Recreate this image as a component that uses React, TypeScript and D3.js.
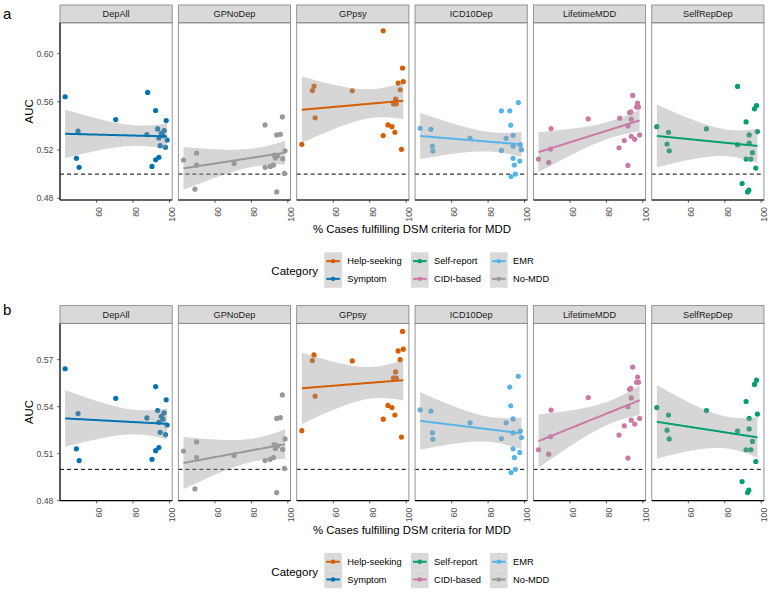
import React from 'react';
import * as d3 from 'd3';

// ---------- DATA ----------
const FACETS = ['DepAll', 'GPNoDep', 'GPpsy', 'ICD10Dep', 'LifetimeMDD', 'SelfRepDep'];
const FACET_CATEGORY = ['Symptom', 'No-MDD', 'Help-seeking', 'EMR', 'CIDI-based', 'Self-report'];
const CATEGORIES = ['Help-seeking', 'Symptom', 'Self-report', 'CIDI-based', 'EMR', 'No-MDD'];
const CATEGORY_COLORS = ['#D55E00', '#0072B2', '#009E73', '#CC79A7', '#56B4E9', '#999999'];

const DEPALL_X = [42.7, 48.9, 49.8, 50.4, 70.5, 87.6, 90.4, 92.4, 92.4, 93.5, 94.2, 94.2, 94.9, 95.5, 96.4, 97.1, 97.8, 98.2, 98.7];
const DEPALL_Y = [0.5642, 0.5131, 0.5356, 0.5056, 0.5453, 0.5328, 0.5064, 0.5528, 0.5119, 0.5375, 0.5139, 0.5300, 0.5236, 0.5339, 0.5320, 0.5361, 0.5222, 0.5444, 0.5283];

const GPNODEP_X = [42.7, 49.0, 49.9, 49.9, 70.5, 87.5, 90.3, 92.1, 92.5, 93.2, 93.9, 93.9, 94.3, 95.9, 97.0, 97.2, 98.2, 98.5];
const GPNODEP_Y = [0.5117, 0.4875, 0.5175, 0.5075, 0.5089, 0.5056, 0.5064, 0.5075, 0.5158, 0.5133, 0.4852, 0.5325, 0.5150, 0.5330, 0.5475, 0.5128, 0.5006, 0.5194];

const GPPSY_X = [42.7, 48.5, 49.4, 50.0, 70.4, 87.4, 90.0, 92.2, 93.0, 93.5, 93.8, 94.2, 94.6, 95.6, 96.7, 97.4, 98.0, 98.4];
const GPPSY_Y = [0.5247, 0.5694, 0.5730, 0.5467, 0.5692, 0.5320, 0.5408, 0.5394, 0.5583, 0.5583, 0.5347, 0.5622, 0.5583, 0.5756, 0.5700, 0.5206, 0.5880, 0.5767];

const ICD10DEP_X = [42.7, 48.6, 49.4, 49.7, 70.1, 87.3, 89.9, 91.9, 92.4, 92.6, 93.7, 93.7, 93.7, 94.4, 95.0, 96.6, 97.4, 97.7, 98.3];
const ICD10DEP_Y = [0.5380, 0.5372, 0.5233, 0.5192, 0.5297, 0.5197, 0.5297, 0.5525, 0.5406, 0.4980, 0.5322, 0.5233, 0.5131, 0.5075, 0.5000, 0.5594, 0.5108, 0.5244, 0.5203];

const LIFETIMEMDD_X = [42.7, 48.3, 49.3, 49.6, 70.0, 86.9, 89.8, 91.8, 91.8, 92.7, 93.4, 93.6, 93.6, 94.4, 95.5, 96.5, 97.1, 97.6, 98.2];
const LIFETIMEMDD_Y = [0.5125, 0.5097, 0.5208, 0.5378, 0.5458, 0.5219, 0.5278, 0.5072, 0.5400, 0.5511, 0.5517, 0.5456, 0.5314, 0.5653, 0.5289, 0.5556, 0.5589, 0.5556, 0.5325];

const SELFREPDEP_X = [42.7, 48.3, 49.1, 49.5, 69.9, 87.0, 89.5, 91.7, 91.7, 92.5, 93.2, 93.4, 93.4, 94.3, 95.2, 96.3, 97.0, 97.4, 97.9];
const SELFREPDEP_Y = [0.5394, 0.5250, 0.5347, 0.5194, 0.5375, 0.5244, 0.4922, 0.5433, 0.5125, 0.4852, 0.4867, 0.5325, 0.5258, 0.5125, 0.5178, 0.5542, 0.5050, 0.5569, 0.5353];

// the outlying cohort, shown in panel a only
const OUTLIER_X = [88.0, 87.5, 87.4, 87.3, 87.3, 87.0];
const OUTLIER_Y = [0.5678, 0.5408, 0.6189, 0.5525, 0.5464, 0.5728];

const X_TICKS = [60, 80, 100];
const Y_TICKS_A = [0.48, 0.52, 0.56, 0.6];
const Y_TICKS_B = [0.48, 0.51, 0.54, 0.57];
const CHANCE_AUC = 0.5;
const X_TITLE = '% Cases fulfilling DSM criteria for MDD';
const Y_TITLE = 'AUC';
const LEGEND_TITLE = 'Category';

const FACET_X = [DEPALL_X, GPNODEP_X, GPPSY_X, ICD10DEP_X, LIFETIMEMDD_X, SELFREPDEP_X];
const FACET_Y = [DEPALL_Y, GPNODEP_Y, GPPSY_Y, ICD10DEP_Y, LIFETIMEMDD_Y, SELFREPDEP_Y];

// ---------- LAYOUT ----------
const W = 772;
const H = 594;
const FONT = '"Liberation Sans", Arial, Helvetica, sans-serif';
const PANEL_X0 = 60;
const PANEL_W = 112.2;
const PANEL_STEP = 118.35;
const STRIP_TOP = 5;
const STRIP_H = 17.8;
const PLOT_BOTTOM = 200;
const BLOCK_OFFSET = 300.6;

function tQuantile(df: number) {
  const z = 1.959964;
  return z + (z ** 3 + z) / (4 * df) + (5 * z ** 5 + 16 * z ** 3 + 3 * z) / (96 * df * df) +
    (3 * z ** 7 + 19 * z ** 5 + 17 * z ** 3 - 15 * z) / (384 * df ** 3);
}

function lmFit(xs: number[], ys: number[]) {
  const n = xs.length;
  const mx = d3.mean(xs) as number;
  const my = d3.mean(ys) as number;
  let sxx = 0, sxy = 0;
  xs.forEach((x, i) => { sxx += (x - mx) ** 2; sxy += (x - mx) * (ys[i] - my); });
  const b = sxy / sxx;
  const a = my - b * mx;
  let sse = 0;
  xs.forEach((x, i) => { sse += (ys[i] - (a + b * x)) ** 2; });
  const s = Math.sqrt(sse / (n - 2));
  const t = tQuantile(n - 2);
  const [x0, x1] = d3.extent(xs) as [number, number];
  const grid = d3.range(0, 81).map(k => x0 + (x1 - x0) * k / 80);
  return grid.map(x => {
    const fit = a + b * x;
    const se = s * Math.sqrt(1 / n + (x - mx) ** 2 / sxx);
    return { x, fit, lo: fit - t * se, hi: fit + t * se };
  });
}

function expand(ext: [number, number]): [number, number] {
  const r = ext[1] - ext[0];
  return [ext[0] - 0.05 * r, ext[1] + 0.05 * r];
}

function Block({ dy, withOutlier, yTicks, tag, tagY }: { dy: number; withOutlier: boolean; yTicks: number[]; tag: string; tagY: number }) {
  const facetData = FACETS.map((f, i) => {
    const xs = [...FACET_X[i]];
    const ys = [...FACET_Y[i]];
    if (withOutlier) { xs.push(OUTLIER_X[i]); ys.push(OUTLIER_Y[i]); }
    return { xs, ys };
  });
  const allX = facetData.flatMap(d => d.xs);
  const allY = facetData.flatMap(d => d.ys);
  const plotTop = STRIP_TOP + STRIP_H + dy;
  const plotBottom = PLOT_BOTTOM + dy;
  const x = d3.scaleLinear().domain(expand(d3.extent(allX) as [number, number])).range([0, PANEL_W]);
  const y = d3.scaleLinear().domain(expand(d3.extent(allY) as [number, number])).range([plotBottom, plotTop]);
  const colorOf = (cat: string) => CATEGORY_COLORS[CATEGORIES.indexOf(cat)];

  const area = d3.area<{ x: number; lo: number; hi: number }>()
    .x(d => x(d.x)).y0(d => y(d.lo)).y1(d => y(d.hi));
  const line = d3.line<{ x: number; fit: number }>().x(d => x(d.x)).y(d => y(d.fit));

  const legendY = 252.3 + dy;
  const keyCols = [324.3, 411, 490];
  const keyW = 17.6;
  const keyH = 17.7;

  return (
    <g>
      <text x={3} y={tagY} fontFamily={FONT} fontSize={15} fill="#000">{tag}</text>
      <text transform={`translate(${33},${(plotTop + plotBottom) / 2}) rotate(-90)`} textAnchor="middle"
        fontFamily={FONT} fontSize={11.4} fill="#000">{Y_TITLE}</text>
      {yTicks.map(t => (
        <g key={t}>
          <line x1={PANEL_X0 - 2.8} x2={PANEL_X0} y1={y(t)} y2={y(t)} stroke="#333" strokeWidth={0.8} />
          <text x={PANEL_X0 - 6.5} y={y(t)} dy="0.35em" textAnchor="end" fontFamily={FONT} fontSize={8.8} fill="#4D4D4D">
            {t.toFixed(2)}
          </text>
        </g>
      ))}
      {FACETS.map((f, i) => {
        const px = PANEL_X0 + i * PANEL_STEP;
        const col = colorOf(FACET_CATEGORY[i]);
        const { xs, ys } = facetData[i];
        const fit = lmFit(xs, ys);
        return (
          <g key={f}>
            <rect x={px} y={STRIP_TOP + dy} width={PANEL_W} height={STRIP_H} fill="#D9D9D9" stroke="#8A8A8A" strokeWidth={0.9} />
            <text x={px + PANEL_W / 2} y={STRIP_TOP + dy + STRIP_H / 2} dy="0.35em" textAnchor="middle"
              fontFamily={FONT} fontSize={9.2} fill="#1A1A1A">{f}</text>
            <g transform={`translate(${px},0)`}>
              <line x1={0} x2={PANEL_W} y1={y(CHANCE_AUC)} y2={y(CHANCE_AUC)} stroke="#000" strokeWidth={1} strokeDasharray="4,3" />
              {xs.map((xv, k) => (
                <circle key={k} cx={x(xv)} cy={y(ys[k])} r={2.6} fill={col} />
              ))}
              <path d={area(fit) as string} fill="#999999" fillOpacity={0.4} />
              <path d={line(fit) as string} fill="none" stroke={col} strokeWidth={2} />
              {X_TICKS.map(t => (
                <g key={t}>
                  <line x1={x(t)} x2={x(t)} y1={plotBottom} y2={plotBottom + 2.8} stroke="#333" strokeWidth={0.8} />
                  <text transform={`translate(${x(t) + 5.8},${plotBottom + 7}) rotate(-90)`} textAnchor="end"
                    fontFamily={FONT} fontSize={8.8} fill="#4D4D4D">{t}</text>
                </g>
              ))}
            </g>
            <rect x={px} y={plotTop} width={PANEL_W} height={plotBottom - plotTop} fill="none" stroke="#8A8A8A" strokeWidth={0.9} />
            <line x1={px} x2={px + PANEL_W} y1={plotBottom} y2={plotBottom} stroke="#000" strokeWidth={1.1} />
            {i === 0 && <line x1={px} x2={px} y1={plotTop} y2={plotBottom} stroke="#000" strokeWidth={1.1} />}
          </g>
        );
      })}
      <text x={PANEL_X0 + (5 * PANEL_STEP + PANEL_W) / 2} y={229 + dy} dy="0.35em" textAnchor="middle"
        fontFamily={FONT} fontSize={11.4} fill="#000">{X_TITLE}</text>
      <text x={318} y={legendY + keyH + 1.3} dy="0.35em" textAnchor="end" fontFamily={FONT} fontSize={11.5} fill="#000">{LEGEND_TITLE}</text>
      {CATEGORIES.map((c, k) => {
        const colIdx = Math.floor(k / 2);
        const row = k % 2;
        const kx = keyCols[colIdx];
        const ky = legendY + row * keyH;
        return (
          <g key={c}>
            <rect x={kx} y={ky} width={keyW} height={keyH} fill="#D9D9D9" />
            <line x1={kx + 2} x2={kx + keyW - 2} y1={ky + keyH / 2} y2={ky + keyH / 2} stroke={CATEGORY_COLORS[k]} strokeWidth={2} />
            <circle cx={kx + keyW / 2} cy={ky + keyH / 2} r={2.2} fill={CATEGORY_COLORS[k]} />
            <text x={kx + keyW + 5.4} y={ky + keyH / 2} dy="0.35em" fontFamily={FONT} fontSize={9.3} fill="#000">{c}</text>
          </g>
        );
      })}
    </g>
  );
}

export default function App() {
  return (
    <svg width={W} height={H} viewBox={`0 0 ${W} ${H}`} style={{ position: 'absolute', left: 0, top: 0, background: '#fff' }}>
      <rect x={0} y={0} width={W} height={H} fill="#fff" />
      <Block dy={0} withOutlier={true} yTicks={Y_TICKS_A} tag="a" tagY={19.3} />
      <Block dy={BLOCK_OFFSET} withOutlier={false} yTicks={Y_TICKS_B} tag="b" tagY={315} />
    </svg>
  );
}
